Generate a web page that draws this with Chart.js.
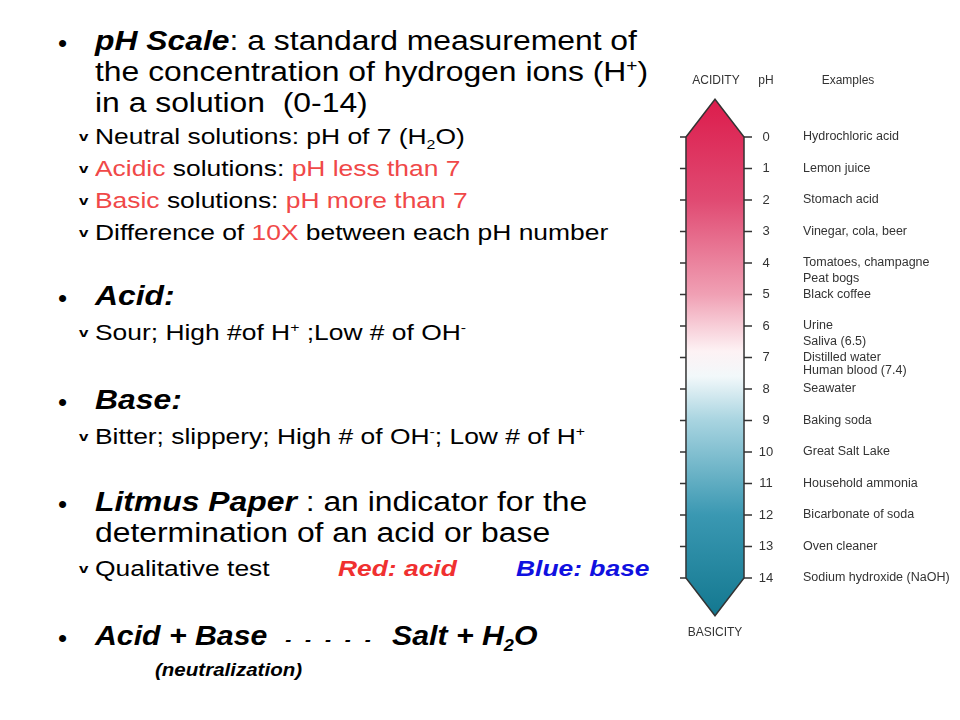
<!DOCTYPE html>
<html><head><meta charset="utf-8">
<script src="https://cdn.jsdelivr.net/npm/chart.js@4/dist/chart.umd.min.js"></script>
<style>
body{margin:0;width:960px;height:720px;background:#fff;position:relative;overflow:hidden;font-family:"Liberation Sans",Arial,sans-serif;color:#000}
.l{position:absolute;white-space:nowrap;line-height:1;transform-origin:0 50%}
.b{font-size:27px;transform:scaleX(1.18)}
.s{font-size:22px;transform:scaleX(1.2)}
.dot{position:absolute;left:58px;font-size:26px}
.chk{position:absolute;left:80px;font-size:13px;font-weight:bold;transform:scaleX(1.3)}
.r{color:#f04848}
sup,sub{font-size:60%;line-height:0}
#wrap{position:absolute;left:660px;top:0;width:300px;height:720px}
</style></head><body>
<div class="dot" style="top:28px">•</div>
<div class="l b" style="left:95px;top:28px"><b><i>pH Scale</i></b>: a standard measurement of</div>
<div class="l b" style="left:95px;top:59px">the concentration of hydrogen ions (H<sup>+</sup>)</div>
<div class="l b" style="left:95px;top:90px">in a solution &nbsp;(0-14)</div>
<div class="chk" style="top:129px">v</div><div class="l s" style="left:95px;top:126px">Neutral solutions: pH of 7 (H<sub>2</sub>O)</div>
<div class="chk" style="top:161px">v</div><div class="l s" style="left:95px;top:158px"><span class="r">Acidic</span> solutions: <span class="r">pH less than 7</span></div>
<div class="chk" style="top:193px">v</div><div class="l s" style="left:95px;top:190px"><span class="r">Basic</span> solutions: <span class="r">pH more than 7</span></div>
<div class="chk" style="top:225px">v</div><div class="l s" style="left:95px;top:222px">Difference of <span class="r">10X</span> between each pH number</div>
<div class="dot" style="top:283px">•</div>
<div class="l b" style="left:95px;top:283px"><b><i>Acid:</i></b></div>
<div class="chk" style="top:325px">v</div><div class="l s" style="left:95px;top:322px">Sour; High #of H<sup>+</sup> ;Low # of OH<sup>-</sup></div>
<div class="dot" style="top:387px">•</div>
<div class="l b" style="left:95px;top:387px"><b><i>Base:</i></b></div>
<div class="chk" style="top:429px">v</div><div class="l s" style="left:95px;top:426px">Bitter; slippery; High # of OH<sup>-</sup>; Low # of H<sup>+</sup></div>
<div class="dot" style="top:489px">•</div>
<div class="l b" style="left:95px;top:489px"><b><i>Litmus Paper </i></b>: an indicator for the</div>
<div class="l b" style="left:95px;top:520px">determination of an acid or base</div>
<div class="chk" style="top:561px">v</div><div class="l s" style="left:95px;top:558px">Qualitative test</div>
<div class="l s" style="left:338px;top:558px;color:#f03030;font-weight:bold;font-style:italic">Red: acid</div>
<div class="l s" style="left:516px;top:558px;color:#1010e0;font-weight:bold;font-style:italic">Blue: base</div>
<div class="dot" style="top:623px">•</div>
<div class="l b" style="left:95px;top:623px;transform:scaleX(1.12)"><b><i>Acid + Base <span style="font-size:16px;letter-spacing:4px">&nbsp;- - - - -</span> &nbsp;Salt + H<sub>2</sub>O</i></b></div>
<div class="l" style="left:155px;top:660px;font-size:19px;font-weight:bold;font-style:italic;transform:scaleX(1.08)">(neutralization)</div>
<div id="wrap"><canvas id="c"></canvas></div>
<script>
const phTicks=[0,1,2,3,4,5,6,7,8,9,10,11,12,13,14];
const exampleValues=[0,1,2,3,4,4.5,5,6,6.5,7,7.4,8,9,10,11,12,13,14];
const exampleLabels=["Hydrochloric acid","Lemon juice","Stomach acid","Vinegar, cola, beer","Tomatoes, champagne","Peat bogs","Black coffee","Urine","Saliva (6.5)","Distilled water","Human blood (7.4)","Seawater","Baking soda","Great Salt Lake","Household ammonia","Bicarbonate of soda","Oven cleaner","Sodium hydroxide (NaOH)"];
const scaleRange=[0,14];
const F='"Liberation Sans Narrow","Liberation Sans",Arial,sans-serif';
function grad(ctx,y){const g=ctx.createLinearGradient(0,y.getPixelForValue(-1.2),0,y.getPixelForValue(15.2));
 const s=v=>(v+1.2)/16.4;
 g.addColorStop(0,'#dc1c4c');g.addColorStop(s(2),'#e04a72');g.addColorStop(s(5),'#f0a0b4');g.addColorStop(s(6.8),'#fdf2f4');
 g.addColorStop(s(7.6),'#f2f8fa');g.addColorStop(s(9),'#a8d4e0');g.addColorStop(s(12),'#3a98b2');g.addColorStop(1,'#137890');return g;}
const plug={id:'ph',
 beforeDatasetsDraw(ch){const {ctx,scales:{x,y}}=ch;const m=ch.getDatasetMeta(0).data[0];
  const l=m.x-m.width/2,r=m.x+m.width/2,t=y.getPixelForValue(0),b=y.getPixelForValue(14);
  ctx.save();ctx.beginPath();ctx.moveTo(l,t);ctx.lineTo(m.x,y.getPixelForValue(-1.2));ctx.lineTo(r,t);ctx.lineTo(r,b);ctx.lineTo(m.x,y.getPixelForValue(15.2));ctx.lineTo(l,b);ctx.closePath();
  ctx.fillStyle=grad(ctx,y);ctx.fill();ctx.strokeStyle='#333';ctx.lineWidth=1.5;ctx.stroke();
  ctx.fillStyle='#333';ctx.lineWidth=1.5;
  ctx.font='13px '+F;ctx.textBaseline='middle';
  phTicks.forEach(v=>{const p=y.getPixelForValue(v);ctx.beginPath();ctx.moveTo(l-6,p);ctx.lineTo(l,p);ctx.moveTo(r,p);ctx.lineTo(r+8,p);ctx.stroke();
   ctx.textAlign='center';ctx.fillText(String(v),r+22,p);});
  ctx.font='12.5px '+F;ctx.textAlign='left';
  exampleValues.forEach((v,i)=>ctx.fillText(exampleLabels[i],r+59,y.getPixelForValue(v)));
  ctx.font='12px '+F;ctx.textAlign='center';
  ctx.fillText('ACIDITY',m.x+1,y.getPixelForValue(-1.8));ctx.fillText('pH',r+22,y.getPixelForValue(-1.8));ctx.fillText('Examples',r+104,y.getPixelForValue(-1.8));
  ctx.fillText('BASICITY',m.x,y.getPixelForValue(15.75));
  ctx.restore();}};
new Chart(document.getElementById('c'),{type:'bar',
 data:{labels:['pH'],datasets:[{data:[scaleRange],backgroundColor:'rgba(0,0,0,0)',borderWidth:0,categoryPercentage:1,barPercentage:0.744}]},
 options:{responsive:true,maintainAspectRatio:false,animation:false,
  layout:{padding:{left:16,right:206,top:0,bottom:0}},
  plugins:{legend:{display:false},tooltip:{enabled:false}},
  scales:{x:{display:false},y:{display:false,reverse:true,min:-4.35,max:18.51}}},
 plugins:[plug]});
</script></body></html>
